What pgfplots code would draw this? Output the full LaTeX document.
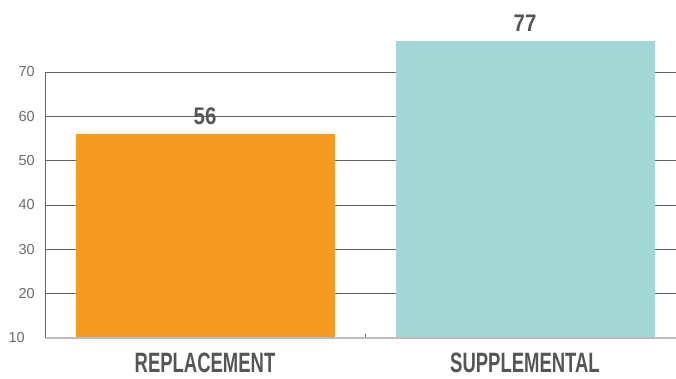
\documentclass[border=0pt]{standalone}
\usepackage{fontspec}
\setmainfont{Liberation Sans}
\newfontfamily\condfont[FakeStretch=0.66]{Liberation Sans}
\newfontfamily\numfont[FakeStretch=0.85]{Liberation Sans}
\usepackage{pgfplots}
\pgfplotsset{compat=1.18}
\definecolor{barorange}{HTML}{F59B22}
\definecolor{barteal}{HTML}{A5D7D7}
\definecolor{gridgray}{HTML}{626262}
\definecolor{ticktext}{HTML}{6A6A6A}
\definecolor{labeltext}{HTML}{555555}
\definecolor{basegray}{HTML}{BDBDBD}
\begin{document}
\begin{tikzpicture}
\useasboundingbox (-45pt,-40pt) rectangle (631pt,338pt);
\begin{axis}[
  at={(0,0)}, anchor=south west,
  x=320pt, y=4.4333pt,
  xmin=-0.5, xmax=1.472, ymin=10, ymax=86,
  ybar, bar width=259pt, bar shift=0pt,
  axis line style={draw=none},
  xtick={0,1}, xticklabels={REPLACEMENT,SUPPLEMENTAL},
  minor xtick={0.5},
  ytick={20,30,40,50,60,70},
  extra y ticks={10},
  extra y tick style={grid=none},
  major tick length=0pt, minor tick length=4pt,
  tick align=inside,
  xtick pos=bottom, ytick pos=left,
  minor tick style={draw=gridgray, line width=0.6pt},
  ymajorgrids, grid style={draw=gridgray, line width=0.8pt},
  /pgf/number format/assume math mode=true,
  yticklabel style={font=\fontsize{14.5}{14.5}\selectfont, text=ticktext, inner sep=0pt, xshift=-10pt},
  extra y tick style={yticklabel style={font=\fontsize{14.5}{14.5}\selectfont, text=ticktext, inner sep=0pt, xshift=-10pt}},
  xticklabel style={font=\condfont\bfseries\fontsize{28}{28}\selectfont, text=labeltext, inner sep=0pt, yshift=-15pt},
  nodes near coords,
  nodes near coords style={font=\numfont\bfseries\fontsize{24}{24}\selectfont, text=labeltext, anchor=south, inner sep=0pt, yshift=9pt},
  after end axis/.code={
    \draw[draw=gridgray, line width=0.8pt] (axis cs:-0.5,10) -- (axis cs:-0.5,70);
    \draw[draw=basegray, line width=1.4pt] (axis cs:-0.5,10) -- (axis cs:1.472,10);
  },
]
\addplot[fill=barorange, draw=none] coordinates {(0,56)};
\addplot[fill=barteal, draw=none] coordinates {(1,77)};
\end{axis}
\end{tikzpicture}
\end{document}
